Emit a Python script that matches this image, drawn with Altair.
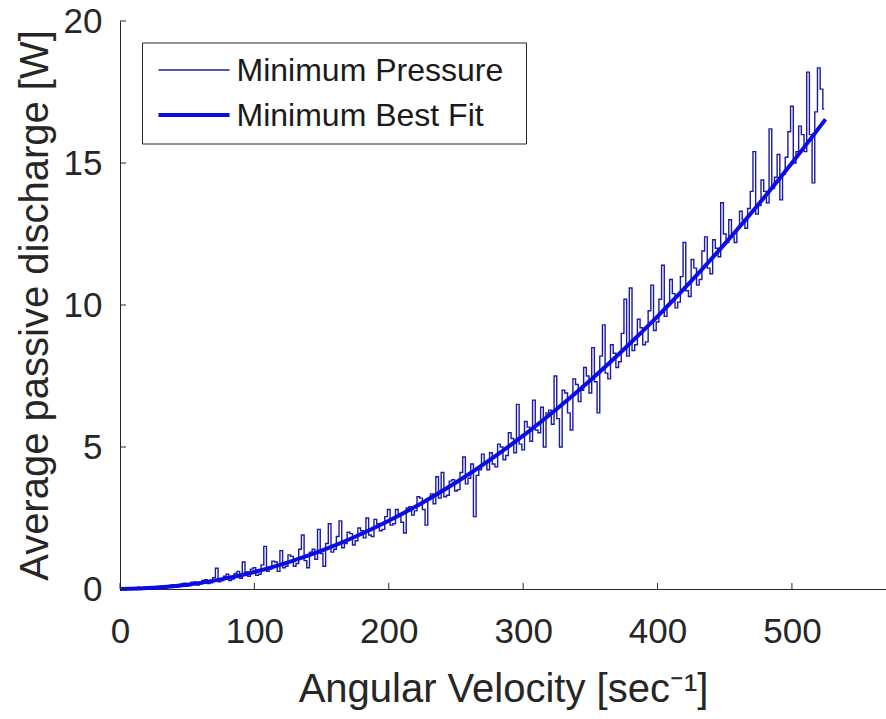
import altair as alt
import pandas as pd

# ---- data ----
noise_y = [
    0.02, 0.05, 0.00, 0.04, 0.03, 0.00, 0.01, 0.06, 0.05, 0.01,
    0.02, 0.07, 0.08, 0.02, 0.03, 0.09, 0.10, 0.04, 0.06, 0.13,
    0.15, 0.07, 0.09, 0.18, 0.20, 0.10, 0.12, 0.24, 0.25, 0.14,
    0.17, 0.30, 0.33, 0.19, 0.22, 0.40, 0.73, 0.25, 0.30, 0.45,
    0.52, 0.30, 0.35, 0.55, 0.62, 0.38, 0.95, 0.60, 0.45, 0.70,
    0.75, 0.48, 0.52, 0.85, 1.50, 0.62, 0.70, 0.98, 0.95, 0.62,
    1.35, 0.75, 0.80, 1.20, 1.15, 0.80, 0.90, 1.40, 1.90, 1.00,
    0.75, 1.30, 1.40, 1.05, 2.10, 1.25, 0.80, 1.60, 2.30, 1.30,
    1.40, 1.85, 2.40, 1.45, 1.60, 2.00, 1.95, 1.55, 1.70, 2.15,
    2.05, 1.80, 2.50, 1.90, 1.85, 2.45, 2.30, 2.05, 2.10, 2.55,
    2.80, 2.25, 2.30, 2.80, 2.65, 2.35, 1.97, 2.85, 2.90, 2.60,
    2.75, 3.25, 3.20, 2.80, 2.25, 3.15, 3.35, 3.00, 3.95, 3.20,
    4.10, 3.25, 3.30, 3.80, 3.85, 3.45, 3.50, 4.10, 4.65, 3.70,
    3.90, 4.40, 2.55, 4.00, 4.20, 4.75, 4.45, 4.20, 4.80, 4.40,
    4.30, 5.10, 5.00, 4.55, 4.70, 5.50, 5.30, 4.80, 6.50, 5.10,
    4.90, 5.90, 5.70, 5.20, 6.65, 5.60, 5.50, 6.40, 5.00, 6.20,
    6.30, 5.80, 7.50, 6.00, 5.00, 7.00, 6.90, 6.20, 5.60, 7.40,
    7.20, 6.60, 7.00, 7.80, 7.50, 6.90, 8.50, 7.30, 6.20, 8.20,
    9.30, 7.60, 7.40, 8.60, 8.30, 7.80, 8.00, 9.00, 10.20, 8.20,
    10.60, 8.40, 8.60, 9.50, 9.20, 8.60, 8.70, 9.80, 10.70, 9.10,
    9.40, 10.20, 11.40, 9.60, 10.00, 10.90, 10.40, 9.90, 10.10, 11.00,
    12.20, 10.50, 10.30, 11.60, 11.30, 10.70, 10.90, 11.90, 12.40, 11.30,
    11.10, 12.30, 12.00, 11.70, 13.60, 12.50, 12.20, 13.00, 12.40, 12.20,
    12.70, 13.30, 13.00, 12.70, 13.40, 14.00, 15.40, 13.20, 13.50, 14.40,
    14.00, 13.60, 16.20, 14.10, 14.50, 15.30, 13.70, 14.60, 15.20, 16.10,
    17.00, 15.00, 15.40, 16.30, 16.00, 15.40, 18.20, 16.00, 14.30, 16.80,
    18.35, 17.60, 16.90,
]
noise_x = list(range(0, 2 * len(noise_y), 2))
fit_x = [0, 25, 50, 75, 100, 125, 150, 175, 200, 225, 250, 275, 300, 325,
         350, 375, 400, 425, 450, 475, 500, 525]
fit_y = [0.0, 0.04, 0.15, 0.34, 0.60, 0.94, 1.35, 1.84, 2.40, 3.04, 3.75,
         4.54, 5.40, 6.34, 7.35, 8.44, 9.60, 10.84, 12.15, 13.54, 15.00, 16.54]
x_ticks = [0, 100, 200, 300, 400, 500]
y_ticks = [0, 5, 10, 15, 20]
series_names = ["Minimum Pressure", "Minimum Best Fit"]

FONT = "Liberation Sans"
INK = "#262626"
THIN = "#1a1aa6"
THICK = "#0b0be6"

noise_df = pd.DataFrame({"x": noise_x, "y": noise_y})
fit_df = pd.DataFrame({"x": fit_x, "y": fit_y})

xs = alt.Scale(domain=[0, 570], nice=False, zero=False)
ys = alt.Scale(domain=[0, 20], nice=False, zero=False)

x_axis = alt.Axis(values=x_ticks, ticks=False, grid=False, domainColor=INK,
                  labelFont=FONT, labelFontSize=35, labelColor=INK, labelPadding=25,
                  title="Angular Velocity [sec⁻¹]", titleFont=FONT, titleFontSize=40,
                  titleFontWeight="normal", titleColor=INK, titleBaseline="alphabetic",
                  titleY=112, labelFlush=False)
y_axis = alt.Axis(values=y_ticks, ticks=False, grid=False, domainColor=INK,
                  labelFont=FONT, labelFontSize=35, labelColor=INK, labelPadding=18,
                  title="Average passive discharge [W]", titleFont=FONT, titleFontSize=40,
                  titleFontWeight="normal", titleColor=INK, titleBaseline="alphabetic",
                  titleX=-73, labelFlush=False)

noise = alt.Chart(noise_df).mark_line(interpolate="step", color=THIN, strokeWidth=1.4).encode(
    x=alt.X("x:Q", scale=xs, axis=x_axis),
    y=alt.Y("y:Q", scale=ys, axis=y_axis),
)
fit = alt.Chart(fit_df).mark_line(interpolate="monotone", color=THICK, strokeWidth=4).encode(
    x=alt.X("x:Q", scale=xs),
    y=alt.Y("y:Q", scale=ys),
)

xt = alt.Chart(pd.DataFrame({"t": x_ticks})).mark_rule(color=INK, strokeWidth=1).encode(
    x=alt.X("t:Q", scale=xs), y=alt.value(568), y2=alt.value(562))
yt = alt.Chart(pd.DataFrame({"t": y_ticks})).mark_rule(color=INK, strokeWidth=1).encode(
    y=alt.Y("t:Q", scale=ys), x=alt.value(0), x2=alt.value(6))

one = pd.DataFrame({"k": [0]})
box = alt.Chart(one).mark_rect(fill="white", stroke=INK, strokeWidth=1).encode(
    x=alt.value(22.5), x2=alt.value(406.5), y=alt.value(22), y2=alt.value(123))
leg1 = alt.Chart(one).mark_rule(color=THIN, strokeWidth=1.4).encode(
    x=alt.value(38.5), x2=alt.value(109.5), y=alt.value(49))
leg2 = alt.Chart(one).mark_rule(color=THICK, strokeWidth=4).encode(
    x=alt.value(38.5), x2=alt.value(109.5), y=alt.value(94))
t1 = alt.Chart(pd.DataFrame({"n": [series_names[0]]})).mark_text(
    font=FONT, fontSize=32, color="#1a1a1a", align="left", baseline="middle").encode(
    text="n:N", x=alt.value(116.5), y=alt.value(50))
t2 = alt.Chart(pd.DataFrame({"n": [series_names[1]]})).mark_text(
    font=FONT, fontSize=32, color="#1a1a1a", align="left", baseline="middle").encode(
    text="n:N", x=alt.value(116.5), y=alt.value(95))

chart = alt.layer(noise, fit, xt, yt, box, leg1, leg2, t1, t2).properties(
    width=766, height=568,
    autosize=alt.AutoSizeParams(type="none"),
    padding={"left": 120, "top": 21, "right": 0, "bottom": 130},
    background="white",
).configure_view(stroke=None)

chart.save("out.html", embed_options={"renderer": "svg", "actions": False})
